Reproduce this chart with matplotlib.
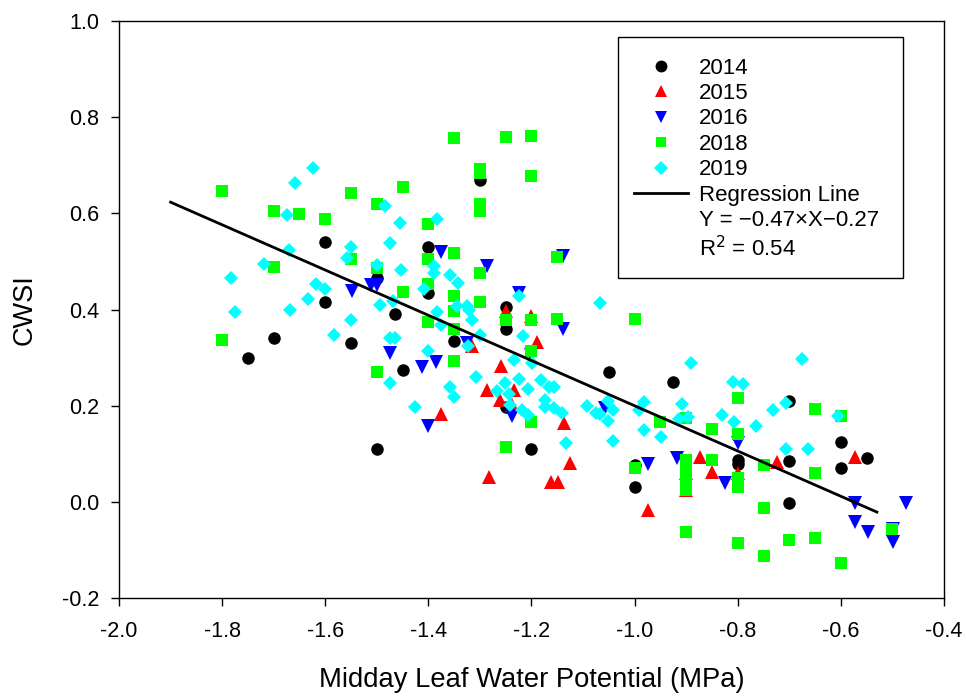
import matplotlib
matplotlib.use("Agg")
import matplotlib.pyplot as plt
from matplotlib.lines import Line2D
from matplotlib.patches import Rectangle
import numpy as np

plt.rcParams['font.family'] = ['Liberation Sans', 'DejaVu Sans']

# Midday leaf water potential (MPa) and CWSI, per season
x_2014 = [-1.75, -1.70, -1.60, -1.60, -1.55, -1.50, -1.465, -1.45, -1.50, -1.40,
          -1.40, -1.35, -1.30, -1.25, -1.25, -1.25, -1.20, -1.05, -0.925, -1.00,
          -1.00, -0.80, -0.80, -0.70, -0.70, -0.70, -0.60, -0.60, -0.55]
y_2014 = [0.30, 0.34, 0.54, 0.415, 0.33, 0.465, 0.39, 0.275, 0.11, 0.53,
          0.435, 0.335, 0.67, 0.405, 0.36, 0.197, 0.11, 0.27, 0.25, 0.077,
          0.032, 0.088, 0.08, 0.21, 0.086, -0.003, 0.125, 0.07, 0.092]

x_2015 = [-1.25, -1.20, -1.19, -1.26, -1.315, -1.286, -1.234, -1.262, -1.238, -1.375,
          -1.137, -1.125, -1.282, -1.163, -1.149, -0.874, -0.850, -0.974, -0.723, -0.573,
          -0.90, -0.90, -0.80]
y_2015 = [0.397, 0.386, 0.333, 0.283, 0.324, 0.233, 0.233, 0.212, 0.202, 0.183,
          0.164, 0.082, 0.053, 0.042, 0.042, 0.094, 0.063, -0.017, 0.084, 0.093,
          0.06, 0.025, 0.06]

x_2016 = [-1.549, -1.512, -1.499, -1.475, -1.375, -1.286, -1.138, -1.224, -1.138, -1.326,
          -1.413, -1.386, -1.20, -1.40, -1.238, -1.057, -0.974, -0.917, -0.80, -0.825,
          -0.573, -0.573, -0.548, -0.498, -0.498, -0.474]
y_2016 = [0.438, 0.45, 0.45, 0.31, 0.519, 0.49, 0.511, 0.435, 0.36, 0.331,
          0.281, 0.29, 0.306, 0.158, 0.178, 0.195, 0.079, 0.091, 0.122, 0.039,
          -0.003, -0.041, -0.062, -0.083, -0.057, -0.001]

x_2018 = [-1.80, -1.55, -1.70, -1.65, -1.60, -1.50, -1.45, -1.55, -1.70, -1.50,
          -1.80, -1.50, -1.45, -1.35, -1.25, -1.20, -1.30, -1.30, -1.20, -1.30,
          -1.30, -1.40, -1.35, -1.40, -1.15, -1.30, -1.40, -1.35, -1.35, -1.30,
          -1.25, -1.20, -1.15, -1.40, -1.35, -1.20, -1.35, -1.20, -1.25, -1.00,
          -0.95, -0.90, -0.85, -0.80, -0.80, -1.00, -0.90, -0.90, -0.90, -0.90,
          -0.90, -0.90, -0.85, -0.80, -0.80, -0.80, -0.75, -0.75, -0.75, -0.65,
          -0.60, -0.65, -0.70, -0.65, -0.60, -0.50]
y_2018 = [0.646, 0.642, 0.605, 0.599, 0.589, 0.619, 0.655, 0.505, 0.489, 0.487,
          0.337, 0.271, 0.437, 0.756, 0.758, 0.761, 0.692, 0.683, 0.678, 0.619,
          0.605, 0.577, 0.518, 0.504, 0.509, 0.475, 0.452, 0.428, 0.397, 0.416,
          0.379, 0.378, 0.381, 0.374, 0.360, 0.313, 0.292, 0.167, 0.115, 0.381,
          0.167, 0.174, 0.152, 0.216, 0.142, 0.070, 0.0875, 0.074, 0.060, 0.046,
          0.025, -0.062, 0.0875, 0.049, 0.032, -0.086, 0.077, -0.012, -0.1125, 0.193,
          0.179, 0.060, -0.079, -0.074, -0.126, -0.057]

x_2019 = [-1.624, -1.658, -1.675, -1.484, -1.455, -1.671, -1.551, -1.557, -1.475, -1.718,
          -1.499, -1.454, -1.783, -1.617, -1.600, -1.634, -1.775, -1.668, -1.551, -1.493,
          -1.468, -1.583, -1.475, -1.464, -1.475, -1.383, -1.389, -1.389, -1.359, -1.342,
          -1.409, -1.224, -1.344, -1.326, -1.322, -1.383, -1.316, -1.375, -1.299, -1.216,
          -1.323, -1.400, -1.233, -1.199, -1.307, -1.224, -1.182, -1.359, -1.350, -1.251,
          -1.157, -1.207, -1.267, -1.244, -1.173, -1.425, -1.093, -1.166, -1.174, -1.157,
          -1.140, -1.241, -1.218, -1.206, -1.074, -1.133, -1.067, -0.891, -0.809, -0.789,
          -0.732, -1.067, -1.051, -1.041, -1.051, -1.042, -0.991, -0.982, -0.982, -0.949,
          -0.908, -0.914, -0.897, -0.831, -0.807, -0.765, -0.675, -0.707, -0.606, -0.707,
          -0.664]
y_2019 = [0.694, 0.662, 0.596, 0.614, 0.579, 0.524, 0.529, 0.508, 0.538, 0.494,
          0.492, 0.483, 0.466, 0.454, 0.443, 0.422, 0.394, 0.400, 0.378, 0.410,
          0.417, 0.346, 0.341, 0.341, 0.247, 0.588, 0.490, 0.476, 0.471, 0.456,
          0.442, 0.429, 0.407, 0.407, 0.400, 0.395, 0.378, 0.367, 0.346, 0.344,
          0.324, 0.313, 0.296, 0.289, 0.259, 0.256, 0.253, 0.240, 0.218, 0.247,
          0.240, 0.235, 0.231, 0.224, 0.212, 0.197, 0.200, 0.239, 0.197, 0.195,
          0.186, 0.201, 0.192, 0.181, 0.185, 0.122, 0.414, 0.289, 0.249, 0.246,
          0.192, 0.183, 0.209, 0.192, 0.169, 0.126, 0.192, 0.207, 0.150, 0.135,
          0.204, 0.172, 0.176, 0.181, 0.167, 0.158, 0.297, 0.206, 0.179, 0.110,
          0.110]

# Fitted regression: Y = slope * X + intercept
slope = -0.47
intercept = -0.27
r_squared = 0.54
fit_x_range = [-1.9, -0.53]

series = [
    ("2014", x_2014, y_2014, "o", "#000000", 9.0),
    ("2015", x_2015, y_2015, "^", "#ff0000", 9.5),
    ("2016", x_2016, y_2016, "v", "#0000ff", 9.5),
    ("2018", x_2018, y_2018, "s", "#00ff00", 8.0),
    ("2019", x_2019, y_2019, "D", "#00ffff", 7.5),
]

fig = plt.figure(figsize=(9.66, 6.97), dpi=100)
ax = fig.add_axes([0.1232, 0.1416, 0.8540, 0.8287])

handles = []
for label, xs, ys, marker, color, ms in series:
    ax.plot(xs, ys, linestyle="none", marker=marker, color=color,
            markersize=ms, markeredgewidth=0, label=label)
    handles.append(Line2D([], [], linestyle="none", marker=marker, color=color,
                          markersize=ms * 0.95, markeredgewidth=0))

fx = np.array(fit_x_range)
ax.plot(fx, slope * fx + intercept, color="black", linewidth=2.0)

ax.set_xlim(-2.0, -0.4)
ax.set_ylim(-0.2, 1.0)
xt = np.arange(-2.0, -0.39, 0.2)
yt = np.arange(-0.2, 1.01, 0.2)
ax.set_xticks(xt)
ax.set_yticks(yt)
ax.set_xticklabels([f"{v:.1f}" for v in xt])
ax.set_yticklabels([f"{v:.1f}" for v in yt])
ax.tick_params(direction="out", length=6, width=1.0, labelsize=15.5, pad=8)
ax.tick_params(axis="x", pad=10)
for sp in ax.spines.values():
    sp.set_linewidth(1.0)

ax.set_xlabel("Midday Leaf Water Potential (MPa)", fontsize=19.7, labelpad=18)
ax.set_ylabel("CWSI", fontsize=19.5, labelpad=17.5)

handles.append(Line2D([], [], color="black", linewidth=2.0))
handles.append(Line2D([], [], linestyle="none"))
handles.append(Line2D([], [], linestyle="none"))
labels = ["2014", "2015", "2016", "2018", "2019", "Regression Line",
          f"Y = \u2212{abs(slope):.2f}\u00d7X\u2212{abs(intercept):.2f}",
          f"R$^2$ = {r_squared:.2f}"]

# Legend frame drawn as its own box
ax.add_patch(Rectangle((0.6048, 0.5545), 0.3455, 0.4172, transform=ax.transAxes,
                       facecolor="white", edgecolor="black", linewidth=1.0, zorder=4))
leg = ax.legend(handles, labels, loc="upper left", bbox_to_anchor=(0.6048, 0.9631),
                fontsize=16, frameon=False, borderpad=0.7, labelspacing=0.2,
                handlelength=2.45, handletextpad=0.5, borderaxespad=0)
leg.set_zorder(5)

fig.savefig("out.png", dpi=100)
